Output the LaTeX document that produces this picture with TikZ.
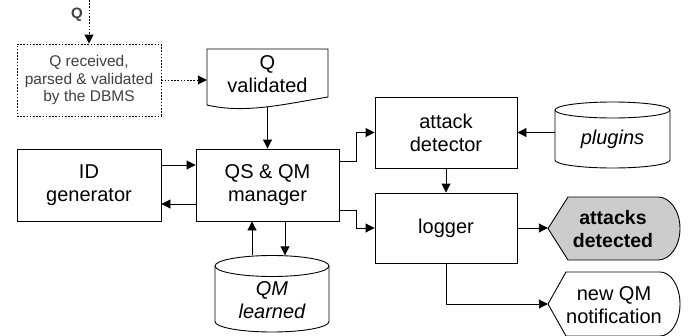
\documentclass[tikz,border=0pt]{standalone}
\usepackage{fontspec}
\setmainfont{Liberation Sans}
\usetikzlibrary{arrows.meta,calc}
\begin{document}
\begin{tikzpicture}[x=1pt,y=-1pt,
  ln/.style={line width=0.9pt},
  box/.style={draw, ln, inner sep=0pt, align=center, font=\fontsize{20}{23}\selectfont},
  ghost/.style={inner sep=0pt},
  txt/.style={inner sep=0pt, align=center, font=\fontsize{20}{23}\selectfont},
  btxt/.style={txt, font=\fontsize{19.5}{23}\selectfont\bfseries},
  itxt/.style={txt, font=\fontsize{20}{23}\selectfont\itshape},
  arr/.style={ln, -{Triangle[length=9pt,width=9pt]}},
  dots/.style={dash pattern=on 1.6pt off 1.6pt}
]
\useasboundingbox (0,0) rectangle (699,335);
\fill[white] (0,0) rectangle (699,335);

% input query
\coordinate (qtop) at (89,0);
\node[font=\fontsize{15}{17}\selectfont\bfseries, text=black!75] (ql) at (77,15) {Q};
\node[draw, ln, dots, inner sep=0pt, minimum width=144pt, minimum height=72pt,
      align=center, text=black!75, font=\fontsize{15.5}{17.5}\selectfont] (dbms) at (89,80)
      {Q received,\\parsed \& validated\\by the DBMS};

% document Q validated
\node[ghost, minimum width=121pt, minimum height=58pt] (doc) at (267.5,78) {};
\draw[ln] (207,49) -- (328,49) -- (328,97) .. controls (285,104) and (245,114) .. (207,105) -- cycle;
\node[txt] (doct) at (267.5,74) {Q\\validated};

% boxes
\node[box, minimum width=144pt, minimum height=72pt] (id) at (89,185) {ID\\generator};
\node[box, minimum width=143pt, minimum height=72pt] (qs) at (267.5,185) {QS \& QM\\manager};
\node[box, minimum width=142pt, minimum height=71pt] (ad) at (446,132.5) {attack\\detector};
\node[box, minimum width=142pt, minimum height=70pt] (lg) at (446,228) {logger};

% QM learned cylinder
\node[ghost, minimum width=114pt, minimum height=76.5pt] (qml) at (272,293.75) {};
\draw[ln] (215,266) -- (215,321.5) arc[start angle=180,end angle=360,x radius=57pt,y radius=10.5pt]
  -- (329,266) arc[start angle=0,end angle=180,x radius=57pt,y radius=10.5pt] -- cycle;
\draw[ln] (215,266) arc[start angle=180,end angle=360,x radius=57pt,y radius=10.5pt];
\node[itxt] (qmlt) at (272,300) {QM\\learned};

% plugins cylinder
\node[ghost, minimum width=115pt, minimum height=66pt] (plug) at (612.5,135) {};
\draw[ln] (555,110) -- (555,160) arc[start angle=180,end angle=360,x radius=57.5pt,y radius=8pt]
  -- (670,110) arc[start angle=0,end angle=180,x radius=57.5pt,y radius=8pt] -- cycle;
\draw[ln] (555,110) arc[start angle=180,end angle=360,x radius=57.5pt,y radius=8pt];
\node[itxt] (plugt) at (612.5,139) {plugins};

% attacks detected display
\node[ghost, minimum width=132pt, minimum height=63pt] (atk) at (614,228.5) {};
\draw[ln, fill=gray!40] (548,228.5) -- (568,197) -- (658,197)
  arc[start angle=90,end angle=-90,x radius=22pt,y radius=31.5pt] -- (568,260) -- cycle;
\node[btxt] (atkt) at (613,229) {attacks\\detected};

% new QM notification display
\node[ghost, minimum width=132pt, minimum height=64pt] (nqm) at (614,304) {};
\draw[ln] (548,304) -- (566,272) -- (660,272)
  arc[start angle=90,end angle=-90,x radius=20pt,y radius=32pt] -- (566,336) -- cycle;
\node[txt] (nqmt) at (614,305) {new QM\\notification};

% connectors
\draw[arr, dots] (qtop) -- (dbms.north);
\draw[arr, dots] (dbms.east) -- (dbms.east -| doc.west);
\draw[arr] (doc.south) -- (qs.north);
\draw[arr] ([yshift=20pt]id.east) -- ([yshift=20pt]id.east -| qs.west);
\draw[arr] ([yshift=-19pt]qs.west) -- ([yshift=-19pt]qs.west -| id.east);
\draw[arr] ([xshift=-20pt]qml.north) -- ([xshift=-20pt]qml.north |- qs.south);
\draw[arr] ([xshift=13pt]qml.north |- qs.south) -- ([xshift=13pt]qml.north);
\draw[arr] ([yshift=24pt]qs.east) -- ++(17,0) |- (ad.west);
\draw[arr] ([yshift=-25pt]qs.east) -- ++(17,0) |- (lg.west);
\draw[arr] (ad.south) -- (lg.north);
\draw[arr] (ad.east -| plug.west) -- (ad.east);
\draw[arr] (lg.east) -- (lg.east -| atk.west);
\draw[arr] (lg.south) |- (nqm.west);
\end{tikzpicture}
\end{document}
